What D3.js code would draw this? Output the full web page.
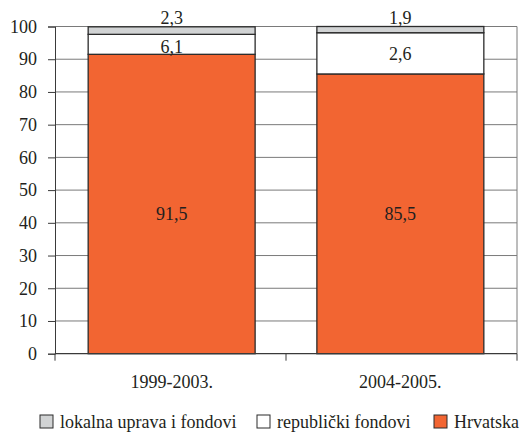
<!DOCTYPE html>
<html><head><meta charset="utf-8">
<script src="https://cdn.jsdelivr.net/npm/d3@7"></script>
<style>body{margin:0;background:#fff}svg{display:block}</style>
</head><body>
<svg id="c" width="531" height="433"></svg>
<script>
const categories = ["1999-2003.", "2004-2005."];
const hrvatska = [91.5, 85.5];
const republicki = [6.1, 12.6];
const lokalna = [2.3, 1.9];
const labelsHrvatska = ["91,5", "85,5"];
const labelsRepublicki = ["6,1", "2,6"];
const labelsLokalna = ["2,3", "1,9"];
const seriesNames = ["lokalna uprava i fondovi", "republički fondovi", "Hrvatska"];
const yTicks = [0, 10, 20, 30, 40, 50, 60, 70, 80, 90, 100];

const colors = {"Hrvatska": "#f26532", "republički fondovi": "#ffffff", "lokalna uprava i fondovi": "#d1d3d4"};
const svg = d3.select("#c");
const L = 55, R = 517, T = 26.5, B = 353.7;
const styleText = sel => sel.style("font-family", '"Liberation Serif"').style("font-size", "18px").style("fill", "#231f20");

const x = d3.scaleBand().domain(categories).range([L, R]).paddingInner(0.27).paddingOuter(0.145);
const y = d3.scaleLinear().domain([0, 100]).range([B, T]);

const rows = categories.map((c, i) => ({cat: c, "Hrvatska": hrvatska[i], "republički fondovi": republicki[i], "lokalna uprava i fondovi": lokalna[i]}));
const stack = d3.stack().keys(["Hrvatska", "republički fondovi", "lokalna uprava i fondovi"])(rows);

// gridlines
svg.append("g").selectAll("line").data(yTicks.filter(d => d > 0)).join("line")
  .attr("x1", L).attr("x2", R).attr("y1", d => y(d)).attr("y2", d => y(d))
  .attr("stroke", "#7a7a7a").attr("stroke-width", 1);
// right border
svg.append("line").attr("x1", R).attr("x2", R).attr("y1", T).attr("y2", B).attr("stroke", "#7a7a7a");

// bars
stack.forEach(s => {
  svg.append("g").selectAll("rect").data(s).join("rect")
    .attr("x", d => x(d.data.cat)).attr("width", x.bandwidth())
    .attr("y", d => y(d[1])).attr("height", d => y(d[0]) - y(d[1]))
    .attr("fill", colors[s.key]).attr("stroke", "#2b2b2b").attr("stroke-width", 1.3);
});

// axes
const yAxis = d3.axisLeft(y).tickValues(yTicks).tickSize(7).tickPadding(11);
const gy = svg.append("g").attr("transform", `translate(${L},0)`).call(yAxis);
gy.select(".domain").attr("stroke", "#3a3a3a");
gy.selectAll(".tick line").attr("stroke", "#3a3a3a");
styleText(gy.selectAll("text"));

const xb = d3.scalePoint().domain([0, 1, 2]).range([L, R]);
svg.append("line").attr("x1", L).attr("x2", R).attr("y1", B).attr("y2", B).attr("stroke", "#3a3a3a").attr("stroke-width", 1.3);
svg.append("g").selectAll("line").data([0, 1, 2]).join("line")
  .attr("x1", d => xb(d)).attr("x2", d => xb(d)).attr("y1", B).attr("y2", B + 7).attr("stroke", "#3a3a3a");
styleText(svg.append("g").selectAll("text").data(categories).join("text")
  .attr("x", d => x(d) + x.bandwidth() / 2).attr("y", 382).attr("dy", "0.35em")
  .attr("text-anchor", "middle")
  .text(d => d));

// value labels
const lbl = svg.append("g").attr("text-anchor", "middle");
const hMid = d3.min(hrvatska) / 2;
categories.forEach((c, i) => {
  const cx = x(c) + x.bandwidth() / 2;
  lbl.append("text").attr("x", cx).attr("y", y(hMid)).attr("dy", "0.35em").text(labelsHrvatska[i]);
  const top2 = hrvatska[i] + republicki[i];
  const ry = i === 0 ? y(hrvatska[i]) - 8 : (y(hrvatska[i]) + y(top2)) / 2;
  lbl.append("text").attr("x", cx).attr("y", ry).attr("dy", "0.35em").text(labelsRepublicki[i]);
  lbl.append("text").attr("x", cx).attr("y", y(100) - 8.5).attr("dy", "0.35em").text(labelsLokalna[i]);
});
styleText(lbl.selectAll("text"));

// legend
const legX = [40, 257, 434];
const leg = svg.append("g");
seriesNames.forEach((n, i) => {
  leg.append("rect").attr("x", legX[i]).attr("y", 415).attr("width", 13).attr("height", 13)
    .attr("fill", colors[n]).attr("stroke", "#2b2b2b").attr("stroke-width", 1);
  leg.append("text").attr("x", legX[i] + 20).attr("y", 421.5).attr("dy", "0.35em").text(n);
});
styleText(leg.selectAll("text"));
</script>
</body></html>
